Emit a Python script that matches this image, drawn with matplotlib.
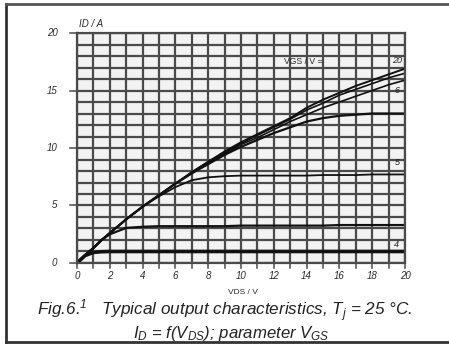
import matplotlib
matplotlib.use("Agg")
import matplotlib.pyplot as plt
from matplotlib.lines import Line2D

plt.rcParams['font.family'] = ['Liberation Sans', 'DejaVu Sans']
plt.rcParams['mathtext.fontset'] = 'custom'
plt.rcParams['mathtext.rm'] = 'Liberation Sans:italic'
plt.rcParams['mathtext.it'] = 'Liberation Sans:italic'

# drain-source voltage points (V)
vds = [0, 0.5, 1, 1.5, 2, 3, 4, 5, 6, 7, 8, 9, 10, 11, 12, 13, 14, 15, 16, 17, 18, 19, 20]

# drain current (A) for each gate voltage
id_20 = [0, 0.7, 1.3, 2.0, 2.6, 3.8, 4.9, 5.9, 6.9, 7.9, 8.8, 9.7, 10.5, 11.2, 11.9, 12.6, 13.5, 14.2, 14.8, 15.4, 15.9, 16.4, 16.9]
id_10 = [0, 0.7, 1.3, 2.0, 2.6, 3.8, 4.9, 5.9, 6.9, 7.9, 8.8, 9.6, 10.4, 11.1, 11.8, 12.5, 13.3, 13.9, 14.6, 15.1, 15.6, 16.1, 16.5]
id_6 = [0, 0.7, 1.3, 2.0, 2.6, 3.8, 4.9, 5.9, 6.9, 7.8, 8.7, 9.5, 10.3, 10.9, 11.6, 12.3, 12.9, 13.5, 14.0, 14.5, 15.0, 15.5, 15.9]
id_55 = [0, 0.7, 1.3, 2.0, 2.6, 3.8, 4.9, 5.9, 6.9, 7.8, 8.6, 9.4, 10.1, 10.7, 11.3, 11.8, 12.3, 12.6, 12.8, 12.9, 13.0, 13.0, 13.0]
id_5 = [0, 0.7, 1.3, 2.0, 2.6, 3.8, 4.9, 5.8, 6.6, 7.2, 7.45, 7.55, 7.6, 7.6, 7.6, 7.6, 7.6, 7.65, 7.65, 7.65, 7.7, 7.7, 7.7]
id_45 = [0, 0.7, 1.3, 2.0, 2.5, 3.05, 3.15, 3.2, 3.2, 3.2, 3.2, 3.2, 3.25, 3.25, 3.25, 3.25, 3.25, 3.25, 3.3, 3.3, 3.3, 3.3, 3.3]
id_4 = [0, 0.65, 0.92, 0.98, 1.0, 1.0, 1.0, 1.0, 1.0, 1.0, 1.0, 1.0, 1.0, 1.0, 1.0, 1.0, 1.0, 1.0, 1.0, 1.0, 1.0, 1.0, 1.0]

curves = [id_20, id_10, id_6, id_55, id_5, id_45, id_4]
widths = [1.4, 1.2, 1.2, 1.6, 1.3, 1.6, 2.6]

# curve labels: text, x, y
curve_labels = [("20", 19.5, 17.6), ("6", 19.5, 15.0), ("5", 19.5, 8.7), ("4", 19.5, 1.6)]

x_ticks = list(range(0, 21, 2))
y_ticks = [0, 5, 10, 15, 20]

fig = plt.figure(figsize=(4.49, 3.45), dpi=100)
ax = fig.add_axes([0.1715, 0.2377, 0.7305, 0.6666])
ax.set_facecolor('#f2f2f2')

ax.set_xlim(0, 20)
ax.set_ylim(0, 20)
ax.set_xticks(range(0, 21))
ax.set_yticks(range(0, 21))
ax.grid(True, color='#4a4a4a', linewidth=1.6)
ax.set_axisbelow(True)
ax.tick_params(axis='both', length=0, labelbottom=False, labelleft=False)
for s in ax.spines.values():
    s.set_color('#4a4a4a')
    s.set_linewidth(1.6)

for yv, lw in zip(curves, widths):
    ax.plot(vds, yv, color='#111111', linewidth=lw, solid_capstyle='butt')

# tick labels and short outside ticks
for v in x_ticks:
    ax.text(v, -1.1, str(v), ha='center', va='center', fontsize=7, style='italic', color='#2a2a2a')
for v in range(0, 21):
    ax.plot([v, v], [0, -0.4], color='#4a4a4a', lw=1.1, clip_on=False)
for v in y_ticks:
    ax.text(-1.2, v, str(v), ha='right', va='center', fontsize=7, style='italic', color='#2a2a2a')
    ax.plot([0, -0.4], [v, v], color='#4a4a4a', lw=1.1, clip_on=False)

ax.text(0.1, 20.8, "ID / A", ha='left', va='center', fontsize=7, style='italic', color='#2a2a2a')
ax.text(10.1, -2.6, "VDS / V", ha='center', va='center', fontsize=6, color='#2a2a2a')
ax.text(12.6, 17.5, "VGS / V =", ha='left', va='center', fontsize=6.2, color='#2a2a2a')
for t, x, y in curve_labels:
    ax.text(x, y, t, ha='center', va='center', fontsize=6.5, style='italic', color='#222222')

fig.text(0.5, 0.098, r"Fig.6.$^1$   Typical output characteristics, $T_j$ = 25 °C.",
         ha='center', va='center', fontsize=12.3, style='italic', color='#222222')
fig.text(0.515, 0.034, r"$I_D$ = f($V_{DS}$); parameter $V_{GS}$",
         ha='center', va='center', fontsize=12.1, style='italic', color='#222222')

# frame around the figure
fig.add_artist(Line2D([6 / 449, 6 / 449], [1 - 4 / 345, 1 - 342 / 345], transform=fig.transFigure, color='#333333', lw=2))
fig.add_artist(Line2D([6 / 449, 1], [1 - 4 / 345, 1 - 4 / 345], transform=fig.transFigure, color='#555555', lw=2))
fig.add_artist(Line2D([6 / 449, 1], [1 - 342 / 345, 1 - 342 / 345], transform=fig.transFigure, color='#333333', lw=2))

fig.savefig("out.png", dpi=100)
